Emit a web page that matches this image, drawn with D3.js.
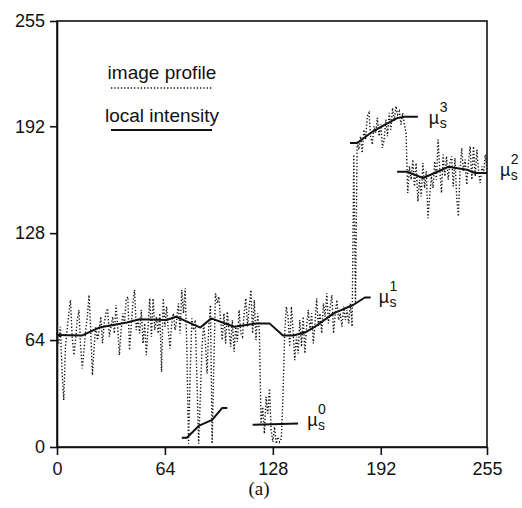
<!DOCTYPE html>
<html>
<head>
<meta charset="utf-8">
<script src="https://cdn.jsdelivr.net/npm/d3@7"></script>
<style>
  html, body { margin: 0; padding: 0; background: #fff; }
  svg { display: block; }
  text { font-family: "Liberation Sans", Arial, Helvetica, sans-serif; fill: #111; }
</style>
</head>
<body>
<svg id="chart" width="522" height="508"></svg>
<script>
// ---------------- data ----------------
const xTicks = [0, 64, 128, 192, 255];
const yTicks = [0, 64, 128, 192, 255];

// image profile: one grey value per pixel position 0..255
const profile = [
  68, 62, 72, 45, 28, 60, 70, 80, 88, 66, 55, 64, 76, 82, 60, 47,
  58, 70, 78, 91, 70, 43, 60, 72, 64, 70, 78, 62, 74, 80, 83, 66,
  72, 78, 68, 85, 72, 55, 70, 80, 74, 88, 90, 58, 72, 86, 94, 70,
  76, 68, 82, 62, 74, 55, 72, 89, 66, 89, 70, 78, 68, 80, 45, 89,
  72, 84, 70, 59, 74, 80, 70, 76, 86, 68, 94, 80, 95, 60, 2, 45,
  77, 70, 76, 40, 2, 30, 60, 74, 62, 44, 72, 85, 2, 50, 92, 86,
  90, 76, 64, 80, 62, 81, 70, 60, 76, 57, 72, 63, 82, 68, 66, 80,
  89, 72, 84, 94, 68, 88, 64, 80, 70, 14, 24, 8, 30, 20, 35, 10,
  3, 12, 2, 6, 3, 5, 30, 68, 84, 78, 60, 84, 70, 52, 66, 56,
  76, 60, 78, 56, 72, 82, 70, 80, 62, 74, 89, 72, 80, 68, 86, 78,
  92, 74, 84, 91, 68, 80, 88, 76, 80, 72, 84, 76, 82, 74, 86, 72,
  175, 86, 183, 178, 186, 176, 190, 184, 198, 200, 186, 181, 192, 188, 197, 186,
  193, 179, 184, 196, 186, 200, 190, 203, 195, 204, 199, 201, 193, 200, 193, 188,
  152, 168, 160, 172, 156, 170, 147, 160, 150, 170, 155, 165, 137, 150, 162, 155,
  171, 160, 184, 166, 152, 175, 162, 174, 160, 170, 174, 156, 173, 150, 138, 165,
  179, 165, 172, 157, 170, 180, 160, 180, 162, 178, 165, 158, 168, 164, 175, 165
];

// local intensity segments (x, value)
const mu0a = [[74, 5.5], [77, 5.5], [84, 12.6], [92, 16.2], [98, 23.4], [101, 23.4]];
const mu0b = [[116, 13.3], [143, 14]];
const mu1 = [[0, 67], [15, 66.8], [25, 71.5], [41.5, 74.5], [49, 76.5], [65, 76],
             [70.5, 78], [85, 71.5], [91.5, 77], [105, 72], [118.6, 74], [126, 74],
             [134, 66.7], [140, 66.7], [147, 68.5], [154, 72.7], [164, 80],
             [175.6, 85], [182.6, 89.5], [186, 89.5]];
const mu3 = [[173.8, 182], [178, 182], [187, 188.7], [194.5, 193], [202, 197],
             [206, 197.7], [214, 197.7]];
const mu2 = [[201.7, 164.7], [208, 164.7], [217, 161], [224, 164], [232, 167.7],
             [243, 166], [248, 164], [255, 164]];

const muLabels = [
  { seg: mu0b, sup: "0" },
  { seg: mu1, sup: "1" },
  { seg: mu2, sup: "2" },
  { seg: mu3, sup: "3" }
];
const legendLabels = ["image profile", "local intensity"];
const caption = "(a)";

// ---------------- layout ----------------
const svg = d3.select("#chart");
const x = d3.scaleLinear().domain([0, 255]).range([57, 487]);
const y = d3.scaleLinear().domain([0, 255]).range([447, 21]);
const ink = "#111";

// frame
svg.append("rect")
  .attr("x", x(0)).attr("y", y(255))
  .attr("width", x(255) - x(0)).attr("height", y(0) - y(255))
  .attr("fill", "none").attr("stroke", ink).attr("stroke-width", 1.6);

// axes
const yAxis = d3.axisLeft(y).tickValues(yTicks).tickSize(7).tickPadding(5).tickSizeOuter(0);
const xAxis = d3.axisBottom(x).tickValues(xTicks).tickSize(8).tickPadding(7).tickSizeOuter(0);

const gy = svg.append("g").attr("transform", `translate(${x(0)},0)`).call(yAxis);
const gx = svg.append("g").attr("transform", `translate(0,${y(0)})`).call(xAxis);
[gx, gy].forEach(g => {
  g.select(".domain").attr("stroke", ink).attr("stroke-width", 1.6);
  g.selectAll(".tick line").attr("stroke", ink).attr("stroke-width", 1.6);
  g.selectAll(".tick text")
    .attr("fill", ink)
    .style("font-family", '"Liberation Sans", Arial, sans-serif')
    .style("font-size", "18px");
});

// image profile (dotted)
const line = d3.line().x(d => x(d[0])).y(d => y(d[1]));
const profilePts = profile.map((v, i) => [i, v]);
svg.append("path")
  .attr("d", line(profilePts))
  .attr("fill", "none")
  .attr("stroke", "#111")
  .attr("stroke-width", 1.4)
  .attr("stroke-dasharray", "1.3,2");

// local intensity (solid)
[mu0a, mu0b, mu1, mu2, mu3].forEach(seg => {
  svg.append("path")
    .attr("d", line(seg))
    .attr("fill", "none")
    .attr("stroke", ink)
    .attr("stroke-width", 2)
    .attr("stroke-linejoin", "round");
});

// mu labels: subscript s and superscript index stacked after the mu
const labelOffsets = { "0": [9, 2], "1": [8, 6], "2": [13, 3], "3": [11, 7] };
muLabels.forEach(l => {
  const end = l.seg[l.seg.length - 1];
  const [dx, dy] = labelOffsets[l.sup];
  const ax = x(end[0]) + dx, ay = y(end[1]) + dy;
  svg.append("text").attr("x", ax).attr("y", ay).style("font-size", "18px").text("\u00B5");
  svg.append("text").attr("x", ax + 10.8).attr("y", ay + 4).style("font-size", "14px").text("s");
  svg.append("text").attr("x", ax + 10.8).attr("y", ay - 12).style("font-size", "14px").text(l.sup);
});

// legend
const legX = 162;
svg.append("text").attr("x", legX).attr("y", 79).attr("text-anchor", "middle")
  .style("font-size", "19px").text(legendLabels[0]);
svg.append("line").attr("x1", 111).attr("x2", 213).attr("y1", 88).attr("y2", 88)
  .attr("stroke", "#111").attr("stroke-width", 1.4).attr("stroke-dasharray", "1.3,2");
svg.append("text").attr("x", legX).attr("y", 122).attr("text-anchor", "middle")
  .style("font-size", "19px").text(legendLabels[1]);
svg.append("line").attr("x1", 111).attr("x2", 212).attr("y1", 130).attr("y2", 130)
  .attr("stroke", ink).attr("stroke-width", 2);

// caption
svg.append("text").attr("x", 259).attr("y", 495).attr("text-anchor", "middle")
  .style("font-family", '"Liberation Serif", "Times New Roman", serif')
  .style("font-size", "19px").text(caption);
</script>
</body>
</html>
